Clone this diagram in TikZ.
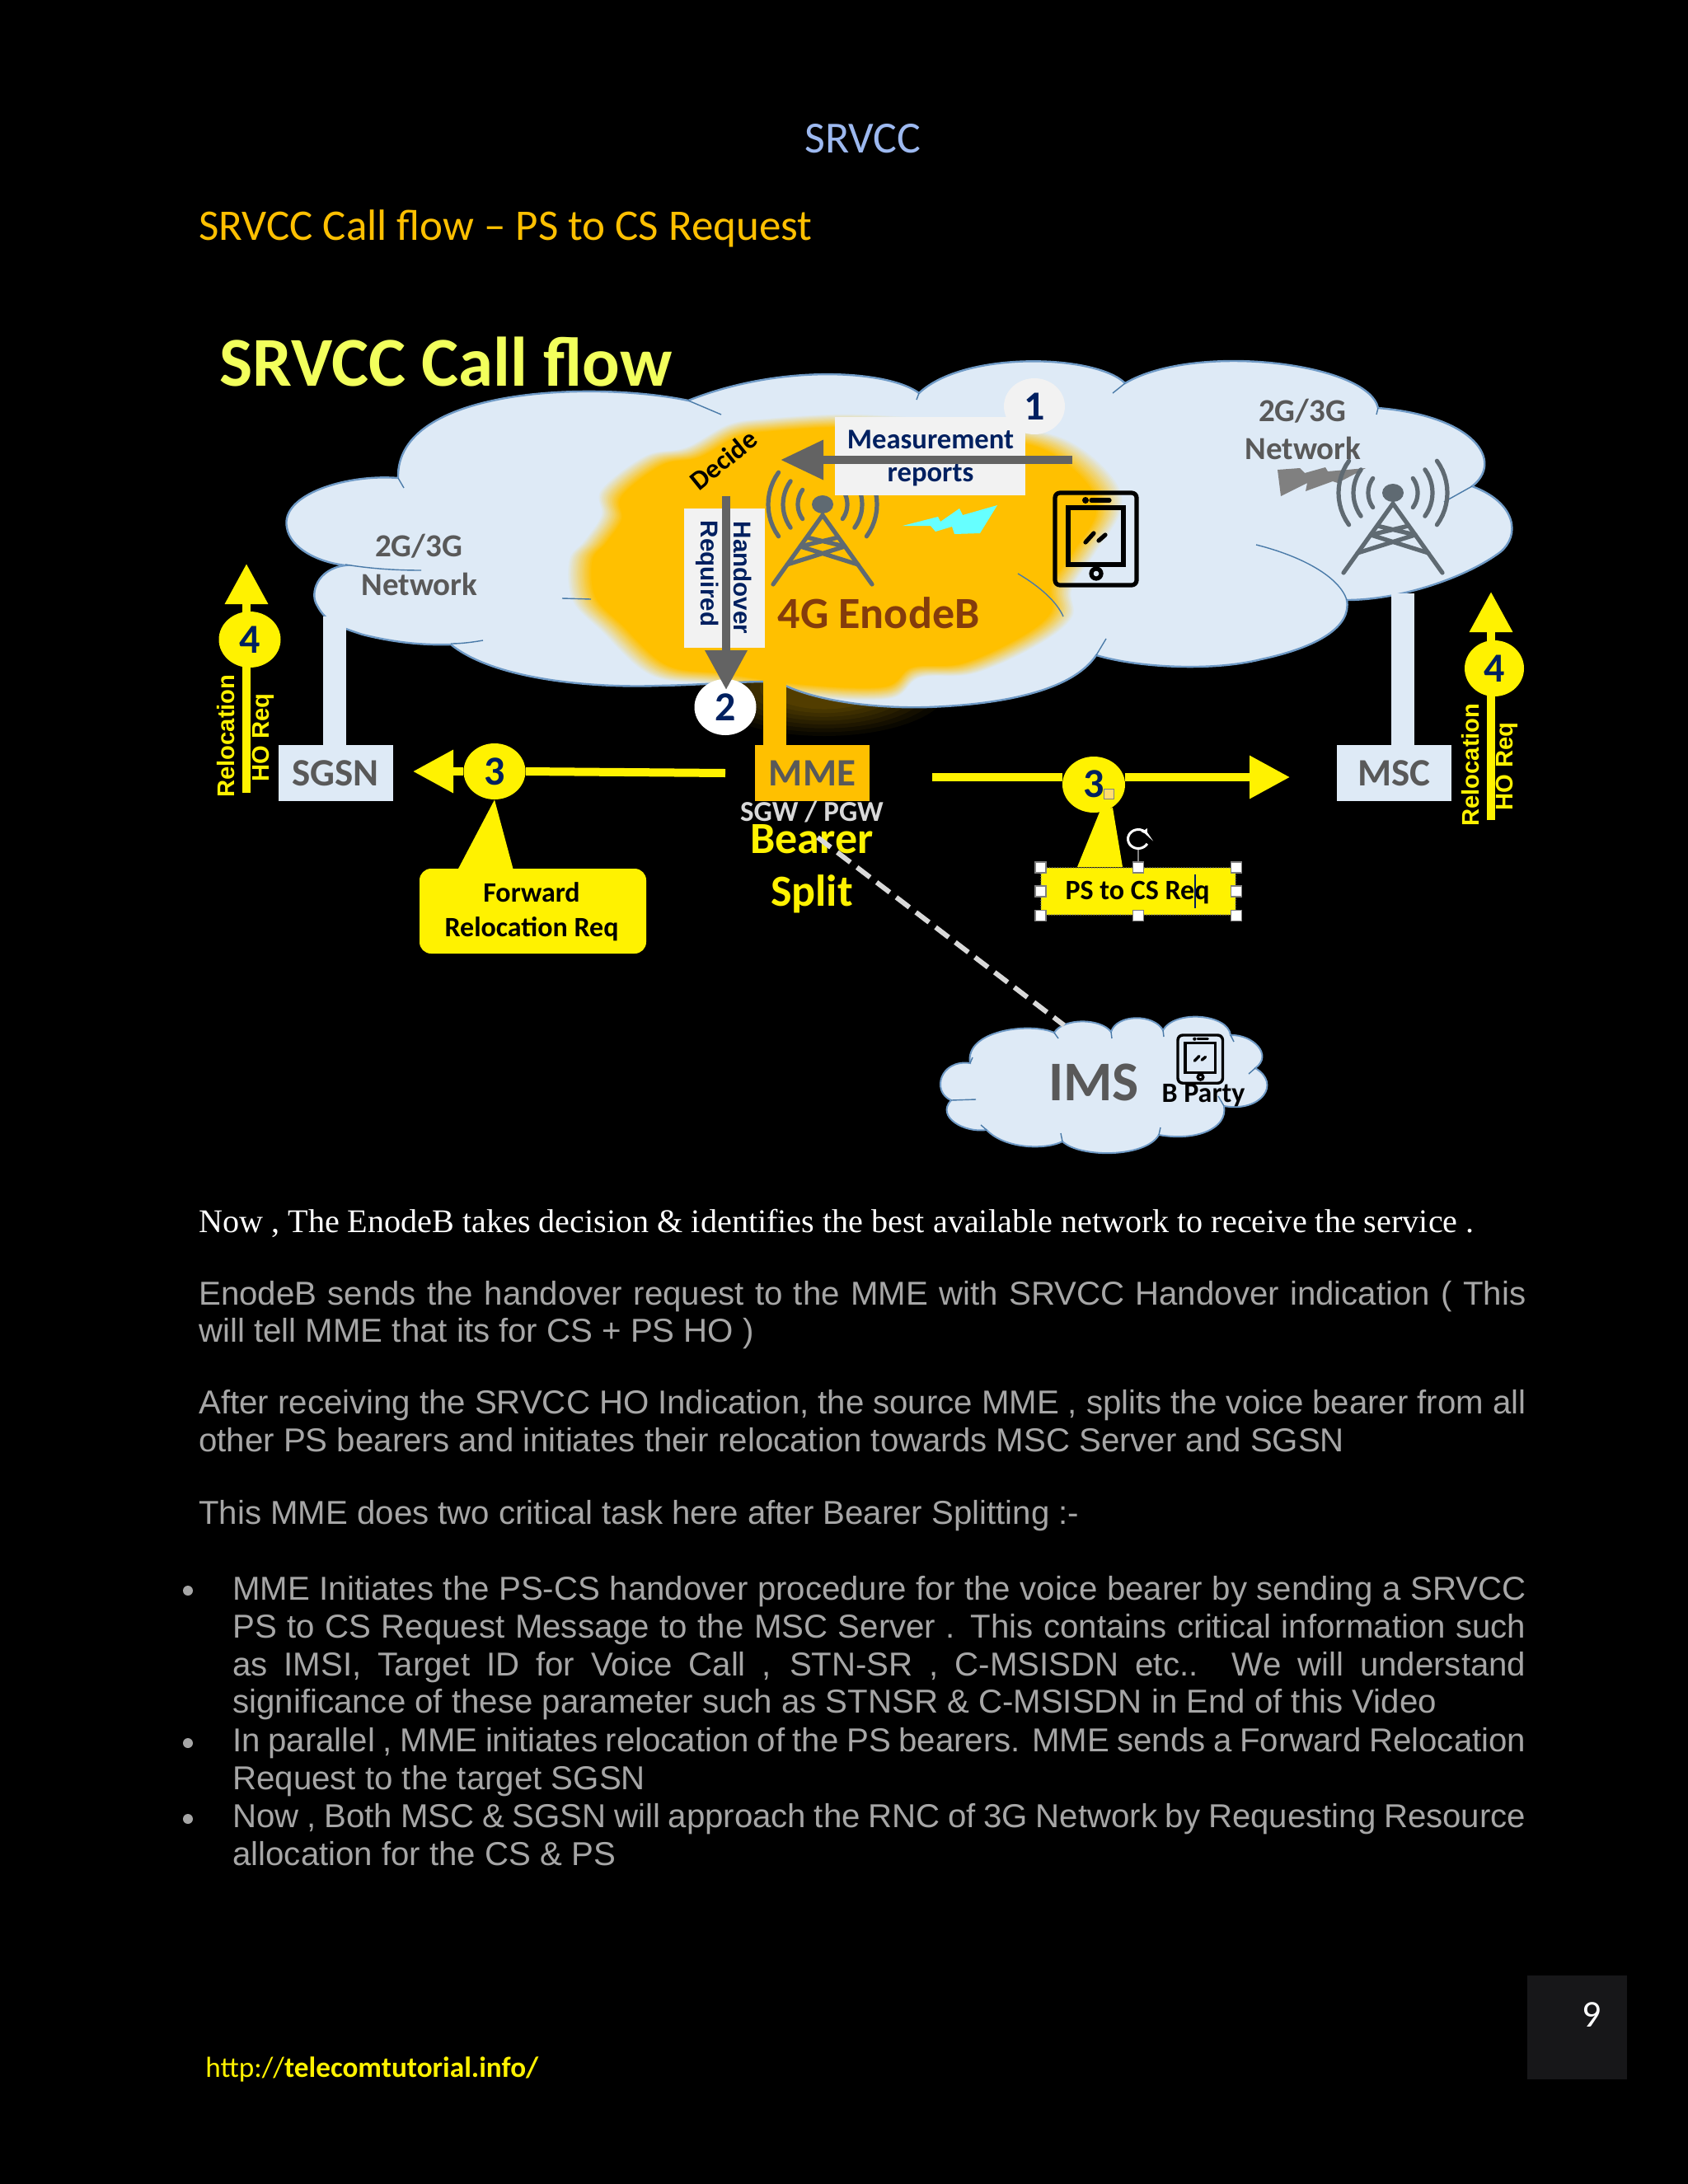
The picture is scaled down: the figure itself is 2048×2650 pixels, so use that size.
\documentclass[tikz,border=0pt]{standalone}
\usepackage{fontspec}
\setmainfont{Carlito}
\newfontfamily\arialf{Liberation Sans}
\newfontfamily\timesf{Liberation Serif}
\usetikzlibrary{arrows.meta,shapes.geometric,calc}
\definecolor{cloudc}{HTML}{DEEAF6}
\definecolor{edgec}{HTML}{6F9AC6}
\definecolor{tickc}{HTML}{4A7AA8}
\definecolor{orangec}{HTML}{FFC000}
\definecolor{navyc}{HTML}{002060}
\definecolor{grayt}{HTML}{595959}
\definecolor{arrowg}{HTML}{636363}
\definecolor{towerc}{HTML}{5F6A72}
\definecolor{panelc}{HTML}{F2F2F2}
\definecolor{brownc}{HTML}{843C0C}
\definecolor{titley}{HTML}{F2FF5C}
\definecolor{parac}{HTML}{A6A6A6}
\definecolor{headb}{HTML}{9DB9F0}
\definecolor{pagec}{HTML}{171719}
\definecolor{splitg}{HTML}{D9D9D9}
\definecolor{boltc}{HTML}{66FFFF}
\definecolor{gripc}{HTML}{FFDD70}
\newcommand\fs[1]{\fontsize{#1}{#1}\selectfont}
\def\cloudpath{(835,486) .. controls (720,462) and (480,470) .. (483,580)
 .. controls (420,575) and (340,600) .. (348,640)
 .. controls (352,665) and (385,682) .. (419,686)
 .. controls (385,690) and (375,720) .. (385,735)
 .. controls (395,755) and (415,762) .. (440,770)
 .. controls (480,780) and (515,783) .. (547,782)
 .. controls (600,825) and (720,835) .. (800,832)
 .. controls (860,831) and (915,825) .. (945,828)
 .. controls (985,850) and (1060,860) .. (1126,858)
 .. controls (1210,855) and (1300,840) .. (1330,795)
 .. controls (1380,810) and (1470,815) .. (1530,800)
 .. controls (1600,785) and (1640,760) .. (1634,728)
 .. controls (1700,728) and (1780,700) .. (1820,670)
 .. controls (1845,650) and (1840,610) .. (1786,590)
 .. controls (1825,560) and (1790,505) .. (1672,495)
 .. controls (1660,440) and (1450,415) .. (1365,465)
 .. controls (1330,430) and (1170,425) .. (1115,477)
 .. controls (1080,450) and (950,440) .. (835,486) -- cycle}
\def\imspath{(1279,1253) .. controls (1250,1240) and (1170,1250) .. (1177,1290)
 .. controls (1140,1285) and (1130,1325) .. (1154,1335)
 .. controls (1135,1355) and (1170,1375) .. (1197,1371)
 .. controls (1220,1395) and (1270,1395) .. (1289,1385)
 .. controls (1310,1405) and (1390,1405) .. (1406,1377)
 .. controls (1450,1385) and (1490,1370) .. (1485,1342)
 .. controls (1530,1350) and (1555,1315) .. (1523,1296)
 .. controls (1545,1280) and (1520,1255) .. (1493,1256)
 .. controls (1490,1230) and (1425,1225) .. (1411,1250)
 .. controls (1400,1230) and (1355,1230) .. (1348,1252)
 .. controls (1335,1235) and (1290,1235) .. (1279,1253) -- cycle}
\def\blobpath{plot[smooth cycle,tension=.6] coordinates {(888,520) (934,513) (1020,508) (1110,512) (1200,520) (1283,537) (1338,580) (1350,620) (1320,670) (1292,713) (1292,747) (1251,780) (1177,813) (1113,818) (1076,843) (970,840) (870,826) (796,815) (738,763) (704,727) (700,680) (718,657) (738,627) (738,597) (790,557) (838,547)}}
\newcommand\towericon[2]{%
 \begin{scope}[shift={(#1,#2)},towerc,line width=2.6pt,line cap=round]
  \fill (0,0) ellipse [x radius=13,y radius=11];
  \foreach \rr in {30,48,66}{
   \draw plot[domain=-36:36,samples=13,variable=\t] ({\rr*cos(\t)},{\rr*sin(\t)});
   \draw plot[domain=144:216,samples=13,variable=\t] ({\rr*cos(\t)},{\rr*sin(\t)});
  }
  \draw (-60,97) -- (0,13) -- (60,97);
  \draw (-19,40) -- (27,51) (19,40) -- (-27,51) (-27,51) -- (43,73) (27,51) -- (-43,73);
 \end{scope}}
\newcommand\phoneicon[5]{%
 \begin{scope}[shift={(#1,#2)},xscale=#3,yscale=#4,black,line width=#5]
  \draw[rounded corners=3pt] (0,0) rectangle (99,112);
  \draw (16,18) rectangle (83,87);
  \fill (37,9) circle [radius=2pt];
  \draw[line cap=round] (44,9) -- (66,9);
  \draw (50,98) circle [radius=3pt];
  \draw[line cap=round] (37,60) -- (47,49) (53,58) -- (61,51);
 \end{scope}}
\tikzset{
 x=0.5pt,y=-0.5pt,
 lab/.style={inner sep=0pt,align=center},
 netbox/.style={inner sep=0pt,minimum width=69.5pt,minimum height=34pt,fill=cloudc,text=grayt,font=\fs{23.5}\bfseries},
 numdot/.style={ellipse,inner sep=0pt,minimum width=37.5pt,minimum height=34pt,fill=yellow,text=navyc,font=\fs{25}\bfseries},
 yarrow/.style={yellow,line width=5pt,-{Triangle[length=24.5pt,width=25pt]}},
 yline/.style={yellow,line width=5pt},
 garrow/.style={arrowg,line width=5pt,-{Triangle[length=26pt,width=23pt]}},
 stemc/.style={cloudc,line width=14pt},
 tick/.style={tickc,line width=.7pt},
 bodytext/.style={anchor=base west,inner sep=0pt,text=parac,font=\arialf\fs{20.1}},
 handle/.style={draw=gray,fill=white,line width=.6pt,inner sep=0pt,minimum size=6.5pt},
 relabel/.style={inner sep=0pt,rotate=90,text=yellow,font=\arialf\fs{14.6}\bfseries},
 graylab/.style={lab,text=grayt,font=\fs{19.5}\bfseries},
 navylab/.style={lab,text=navyc,font=\fs{17.3}\bfseries},
 blacklab/.style={lab,text=black,font=\fs{17}\bfseries},
 bulletdot/.style={circle,fill=parac,inner sep=0pt,minimum size=6pt},
 handlab/.style={lab,rotate=-90,text=navyc,font=\arialf\fs{14.8}\bfseries},
}
\newcommand\jline[1]{\makebox[805pt][s]{#1}}
\newcommand\kline[1]{\makebox[784.5pt][s]{#1}}
\begin{document}
\begin{tikzpicture}
\fill[black] (0,0) rectangle (2048,2650);
\useasboundingbox (0,0) rectangle (2048,2650);
% headings
\node[lab,anchor=base,text=headb,font=\fs{27}] (hdr) at (1047,185) {SRVCC};
\node[lab,anchor=base west,text=orangec,font=\fs{26.5}] (sub) at (241,291) {SRVCC Call flow -- PS to CS Request};
\node[lab,anchor=base west,text=titley,font=\fs{42.5}\bfseries] (ttl) at (266,468) {SRVCC Call flow};
% glow under the cloud
\foreach \m/\r in {4/1,8/.92,12/.84,16/.76,20/.68,24/.6,28/.52,32/.44}{
 \fill[orangec!\m!black] (1000,835) ellipse [x radius=150*\r,y radius=58*\r];
}
% main cloud with the orange blob
\fill[cloudc] \cloudpath;
\begin{scope}
 \clip \cloudpath;
 \foreach \m/\s in {6/1.03,12/1.024,19/1.018,25/1.012,31/1.006,37/1.0,44/.994,50/.988,56/.982,62/.976,69/.97,75/.964,81/.958,87/.952,94/.946,100/.94}{
  \begin{scope}[shift={(1010,680)},scale=\s,shift={(-1010,-680)}]
   \fill[orangec!\m!cloudc] \blobpath;
  \end{scope}
 }
\end{scope}
\draw[edgec,line width=1.2pt] \cloudpath;
% cloud inner strokes
\draw[tick] (835,486) -- (875,503);
\draw[tick] (483,580) -- (490,592);
\draw[tick] (419,685) .. controls (450,690) and (480,692) .. (511,692);
\draw[tick] (682,726) -- (717,727);
\draw[tick] (547,781) .. controls (560,781) and (575,779) .. (586,777);
\draw[tick] (1115,477) -- (1112,485);
\draw[tick] (1365,465) -- (1350,477);
\draw[tick] (1672,495) -- (1670,503);
\draw[tick] (1786,590) -- (1752,609);
\draw[tick] (1524,661) .. controls (1580,675) and (1625,700) .. (1634,728);
\draw[tick] (1235,696) .. controls (1262,712) and (1282,730) .. (1290,748);
\draw[tick] (1330,795) -- (1342,775);
% towers, phone and bolts
\fill[gray] (1550,570) -- (1554,602) -- (1586,586) -- (1584,596) -- (1617,584) -- (1623,586) -- (1657,568) -- (1611,572) -- (1608,567) -- (1583,574) -- (1577,568) -- cycle;
\towericon{998}{612}
\towericon{1690}{598}
\phoneicon{1280}{598}{1}{1}{2.6pt}
\fill[boltc] (1210,613) -- (1189,647) -- (1158,648) -- (1155,639) -- (1135,645) -- (1129,638) -- (1095,638) -- (1138,627) -- (1141,633) -- (1164,617) -- (1168,625) -- cycle;
% network boxes
\node[netbox] (sgsn) at (407,938) {SGSN};
\node[netbox] (msc) at (1691.5,938) {MSC};
\node[netbox,fill=orangec,minimum width=69.5pt] (mme) at (985.5,938) {MME};
\coordinate (sgsnTop) at (406,748);
\coordinate (mscTop) at (1702,720);
\coordinate (mmeTop) at (940,800);
\draw[stemc] (sgsnTop) -- (sgsnTop |- sgsn.north);
\draw[stemc] (mscTop) -- (mscTop |- msc.north);
\draw[orangec,line width=14pt] (mmeTop) -- (mmeTop |- mme.north);
% labels on the clouds
\node[graylab] (lnetA) at (508,663) {2G/3G};
\node[graylab] (lnetB) at (509,709) {Network};
\node[graylab] (rnetA) at (1580,499) {2G/3G};
\node[graylab] (rnetB) at (1581,544) {Network};
\node[lab,text=brownc,font=\fs{27}\bfseries] (enb) at (1066,744) {4G EnodeB};
\node[lab,rotate=39,text=black,font=\fs{16.5}\bfseries] (dec) at (878,558) {Decide};
% measurement reports
\node[ellipse,inner sep=0pt,minimum width=37pt,minimum height=34pt,fill=panelc,text=navyc,font=\fs{25}\bfseries] (n1) at (1255,493) {1};
\node[inner sep=0pt,minimum width=115.5pt,minimum height=47.5pt,fill=panelc] (mbox) at (1128.5,553.5) {};
\node[navylab] (mA) at (1129,533) {Measurement};
\node[navylab] (mB) at (1129,576) {reports};
\coordinate (mStart) at (1301,558);
\coordinate (mTip) at (947,558);
\draw[garrow] (mStart) -- (mTip);
% handover required
\node[inner sep=0pt,minimum width=49pt,minimum height=84.5pt,fill=panelc] (hbox) at (879,701.5) {};
\node[handlab] (hA) at (901,701) {Handover};
\node[handlab] (hB) at (858,696) {Required};
\node[numdot,fill=white] (n2) at (880,858) {2};
\coordinate (hStart) at (881,602);
\coordinate (hTip) at (881,837);
\draw[garrow,-{Triangle[length=24pt,width=24.5pt]}] (hStart) -- (hTip);
% arrows 3
\node[numdot] (n3a) at (600,936) {3};
\coordinate (aStart) at (880,938);
\coordinate (aTip) at (501,936);
\draw[yline] (aStart) -- (n3a.east);
\draw[yarrow] (n3a.west) -- (aTip);
\node[numdot,minimum width=38pt] (n3b) at (1327,952) {\raisebox{1pt}{3}};
\coordinate (bStart) at (1131,943);
\coordinate (bTip) at (1565,943);
\draw[yline] (bStart) -- (n3b.west |- bStart);
\draw[yarrow] (n3b.east |- bTip) -- (bTip);
\node[draw=gray,fill=gripc,line width=.5pt,inner sep=0pt,minimum size=6pt] (grip) at (1345,963) {};
% callouts
\node[inner sep=0pt,minimum width=137.5pt,minimum height=51.5pt,rounded corners=7pt,fill=yellow,text=black,align=center] (fwd) at (646.5,1105.5) {};
\fill[yellow] (n3a.south) -- (623,1056) -- (555,1056) -- cycle;
\node[blacklab] (fwdA) at (645,1083) {Forward};
\node[blacklab] (fwdB) at (645,1127) {Relocation Req};
\node[inner sep=0pt,minimum width=118pt,minimum height=28.5pt,rounded corners=2pt,fill=yellow,draw=gray,densely dotted,line width=.6pt,text=black] (req) at (1381,1081.5) {};
\fill[yellow] (1350,980) -- (1335,983) -- (1307,1052) -- (1362,1052) -- cycle;
\node[blacklab] (reqT) at (1380,1083) {PS to CS Req};
\coordinate (curT) at (1450,1061);
\coordinate (curB) at (1450,1102);
\draw[navyc,line width=.8pt] (curT) -- (curB);
\foreach \nm/\pos in {hNW/north west,hN/north,hNE/north east,hW/west,hE/east,hSW/south west,hS/south,hSE/south east}{
 \node[handle] (\nm) at (req.\pos) {};
}
\coordinate (rotC) at (1381,1018);
\draw[gray,line width=.6pt] (rotC) ++(0,12) -- (hN.north);
\draw[white,line width=1.5pt,-{Latex[length=3.5pt,width=4.5pt]}] plot[domain=-30:-335,samples=24,variable=\t] ({1381+12.5*cos(\t)},{1018-11.5*sin(\t)});
% relocation arrows
\coordinate (l4Start) at (299,962);
\coordinate (l4Tip) at (299,684);
\draw[yarrow] (l4Start) -- (l4Tip);
\node[numdot] (n4a) at (303,776) {4};
\node[relabel] (lrA) at (274,893) {Relocation};
\node[relabel] (lrB) at (319,895) {HO Req};
\coordinate (r4Start) at (1809,995);
\coordinate (r4Tip) at (1809,718);
\draw[yarrow] (r4Start) -- (r4Tip);
\node[numdot,minimum width=36pt] (n4b) at (1813,811) {4};
\node[relabel] (rrA) at (1784,928) {Relocation};
\node[relabel] (rrB) at (1828,930) {HO Req};
% mme labels
\node[lab,text=splitg,font=\fs{17.5}\bfseries] (sgw) at (985,985) {SGW / PGW};
\node[lab,anchor=base,text=yellow,font=\fs{27}\bfseries] (bear) at (985,1035) {Bearer};
\node[lab,anchor=base,text=yellow,font=\fs{27}\bfseries] (spl) at (985,1099) {Split};
% IMS cloud
\fill[cloudc] \imspath;
\draw[edgec,line width=1pt] \imspath;
\draw[tick] (1279,1253) -- (1284,1260);
\draw[tick] (1177,1290) -- (1180,1283);
\draw[tick] (1154,1335) -- (1184,1334);
\draw[tick] (1197,1371) -- (1190,1365);
\draw[tick] (1289,1385) -- (1287,1375);
\draw[tick] (1406,1377) -- (1408,1368);
\draw[tick] (1485,1342) -- (1478,1330);
\draw[tick] (1523,1296) -- (1515,1303);
\draw[tick] (1493,1256) -- (1497,1264);
\draw[tick] (1411,1250) -- (1412,1258);
\draw[tick] (1348,1252) -- (1349,1260);
\node[lab,text=grayt,font=\fs{34}\bfseries] (ims) at (1327,1313) {IMS};
\phoneicon{1429}{1256}{.55}{.52}{1.7pt}
\node[lab,anchor=base,text=black,font=\fs{17}\bfseries] (bp) at (1460,1337) {B Party};
\coordinate (dStart) at (992,1016);
\coordinate (dEnd) at (1291,1244);
\draw[splitg,line width=3pt,dash pattern=on 10pt off 5pt] (dStart) -- (dEnd);
% body text
\node[anchor=base west,inner sep=0pt,text=white,font=\timesf\fs{20.07}] (p0) at (241,1495) {Now , The EnodeB takes decision \& identifies the best available network to receive the service .};
\node[bodytext] (p1a) at (241,1583) {\jline{EnodeB sends the handover request to the MME with SRVCC Handover indication ( This}};
\node[bodytext] (p1b) at (241,1628) {will tell MME that its for CS + PS HO )};
\node[bodytext] (p2a) at (241,1715) {\jline{After receiving the SRVCC HO Indication, the source MME , splits the voice bearer from all}};
\node[bodytext] (p2b) at (241,1761) {other PS bearers and initiates their relocation towards MSC Server and SGSN};
\node[bodytext] (p3) at (241,1849) {This MME does two critical task here after Bearer Splitting :-};
\node[bodytext] (b1a) at (282,1941) {\kline{MME Initiates the PS-CS handover procedure for the voice bearer by sending a SRVCC}};
\node[bodytext] (b1b) at (282,1987) {\kline{PS to CS Request Message to the MSC Server . This contains critical information such}};
\node[bodytext] (b1c) at (282,2033) {\kline{as IMSI, Target ID for Voice Call , STN-SR , C-MSISDN etc.. We will understand}};
\node[bodytext] (b1d) at (282,2078) {significance of these parameter such as STNSR \& C-MSISDN in End of this Video};
\node[bodytext] (b2a) at (282,2125) {\kline{In parallel , MME initiates relocation of the PS bearers. MME sends a Forward Relocation}};
\node[bodytext] (b2b) at (282,2171) {Request to the target SGSN};
\node[bodytext] (b3a) at (282,2217) {\kline{Now , Both MSC \& SGSN will approach the RNC of 3G Network by Requesting Resource}};
\node[bodytext] (b3b) at (282,2263) {allocation for the CS \& PS};
\node[bulletdot] (d1) at (228,1930) {};
\node[bulletdot] (d2) at (228,2115) {};
\node[bulletdot] (d3) at (228,2207) {};
% footer
\node[lab,anchor=base west,text=yellow,font=\fs{17.6}] (url) at (249,2520) {http://\textbf{telecomtutorial.info/}};
\node[inner sep=0pt,minimum width=60.5pt,minimum height=63pt,fill=pagec] (pg) at (1913.5,2460) {};
\node[lab,anchor=base,text=white,font=\fs{23}] (pgn) at (1931,2459) {9};
\end{tikzpicture}
\end{document}
